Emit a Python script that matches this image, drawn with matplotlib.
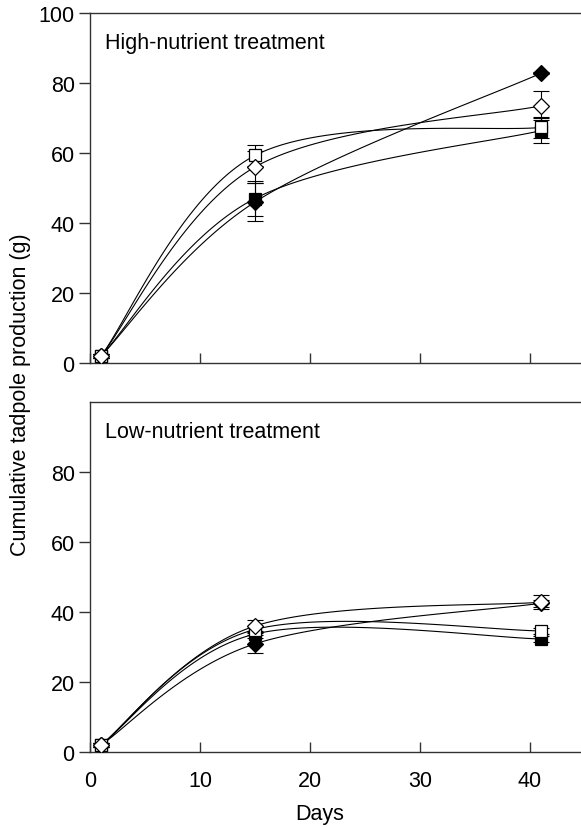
import numpy as np
import matplotlib
matplotlib.use('Agg')
import matplotlib.pyplot as plt

plt.rcParams['font.family'] = ['Liberation Sans', 'DejaVu Sans']

days = [1, 15, 41]

# high-nutrient treatment
high_filled_diamond = [2, 46, 82.8]
high_filled_diamond_err = [0.5, 5.5, 0.3]
high_filled_square = [2, 47, 66.4]
high_filled_square_err = [0.5, 5.0, 3.5]
high_open_square = [2, 59.3, 67.3]
high_open_square_err = [0.5, 3.1, 3.0]
high_open_diamond = [2, 56, 73.5]
high_open_diamond_err = [0.5, 4.6, 4.1]

# low-nutrient treatment
low_filled_diamond = [2, 30.9, 42.5]
low_filled_diamond_err = [0.5, 2.6, 1.0]
low_filled_square = [2, 33.7, 32.3]
low_filled_square_err = [0.5, 1.0, 0.8]
low_open_square = [2, 35.0, 34.6]
low_open_square_err = [0.5, 1.0, 0.8]
low_open_diamond = [2, 36.0, 42.8]
low_open_diamond_err = [0.5, 1.7, 2.0]


def smooth(x, y, n=60):
    # excel-like bezier smoothing through the points
    pts = np.column_stack([x, y]).astype(float)
    out = [pts[0]]
    t = np.linspace(0, 1, n)[1:, None]
    for i in range(len(pts) - 1):
        p0 = pts[i - 1] if i > 0 else pts[i]
        p1 = pts[i]
        p2 = pts[i + 1]
        p3 = pts[i + 2] if i + 2 < len(pts) else pts[i + 1]
        c1 = p1 + (p2 - p0) / 6
        c2 = p2 - (p3 - p1) / 6
        seg = (1 - t)**3 * p1 + 3 * (1 - t)**2 * t * c1 + 3 * (1 - t) * t**2 * c2 + t**3 * p2
        out.extend(seg)
    out = np.array(out)
    return out[:, 0], out[:, 1]


def draw_panel(ax, series, label):
    for vals, err, marker, face, ms in series:
        sx, sy = smooth(days, vals)
        ax.plot(sx, sy, color='black', lw=0.8, zorder=2)
        ax.errorbar(days, vals, yerr=err, fmt='none', ecolor='black',
                    elinewidth=0.8, capsize=5.5, capthick=0.8, zorder=3)
        ax.plot(days, vals, linestyle='none', marker=marker, ms=ms,
                markerfacecolor=face, markeredgecolor='black', mew=0.9, zorder=4)
    ax.set_xlim(0, 45.5)
    ax.set_ylim(0, 100)
    ax.spines['right'].set_visible(False)
    for s in ['left', 'bottom', 'top']:
        ax.spines[s].set_linewidth(1.0)
        ax.spines[s].set_color('#333333')
    ax.set_xticks([0, 10, 20, 30, 40])
    ax.tick_params(axis='x', direction='in', length=7, width=1, color='#333333',
                   labelsize=15.5, pad=13)
    ax.tick_params(axis='y', direction='out', length=8, width=1, color='#333333',
                   labelsize=15.5, pad=3)
    ax.text(0.03, 0.945, label, transform=ax.transAxes, fontsize=15.5,
            va='top', ha='left')


fig = plt.figure(figsize=(5.81, 8.28), dpi=100)
# axes run past the right edge of the figure, as in the original
ax1 = fig.add_axes([90 / 581, 1 - 364 / 828, 500.5 / 581, 350 / 828])
ax2 = fig.add_axes([90 / 581, 1 - 753 / 828, 500.5 / 581, 350 / 828])

draw_panel(ax1, [
    (high_filled_diamond, high_filled_diamond_err, 'D', 'black', 8),
    (high_filled_square, high_filled_square_err, 's', 'black', 8.5),
    (high_open_square, high_open_square_err, 's', 'white', 8.5),
    (high_open_diamond, high_open_diamond_err, 'D', 'white', 8),
], 'High-nutrient treatment')
ax1.set_yticks([0, 20, 40, 60, 80, 100])
ax1.set_xticklabels([])

draw_panel(ax2, [
    (low_filled_diamond, low_filled_diamond_err, 'D', 'black', 8),
    (low_filled_square, low_filled_square_err, 's', 'black', 8.5),
    (low_open_square, low_open_square_err, 's', 'white', 8.5),
    (low_open_diamond, low_open_diamond_err, 'D', 'white', 8),
], 'Low-nutrient treatment')
ax2.set_yticks([0, 20, 40, 60, 80])

fig.text(21 / 581, 1 - 395 / 828, 'Cumulative tadpole production (g)',
         rotation=90, ha='center', va='center', fontsize=15.5)
fig.text(320 / 581, 1 - 815 / 828, 'Days',
         ha='center', va='center', fontsize=15.5)

fig.savefig('out.png', dpi=100)
